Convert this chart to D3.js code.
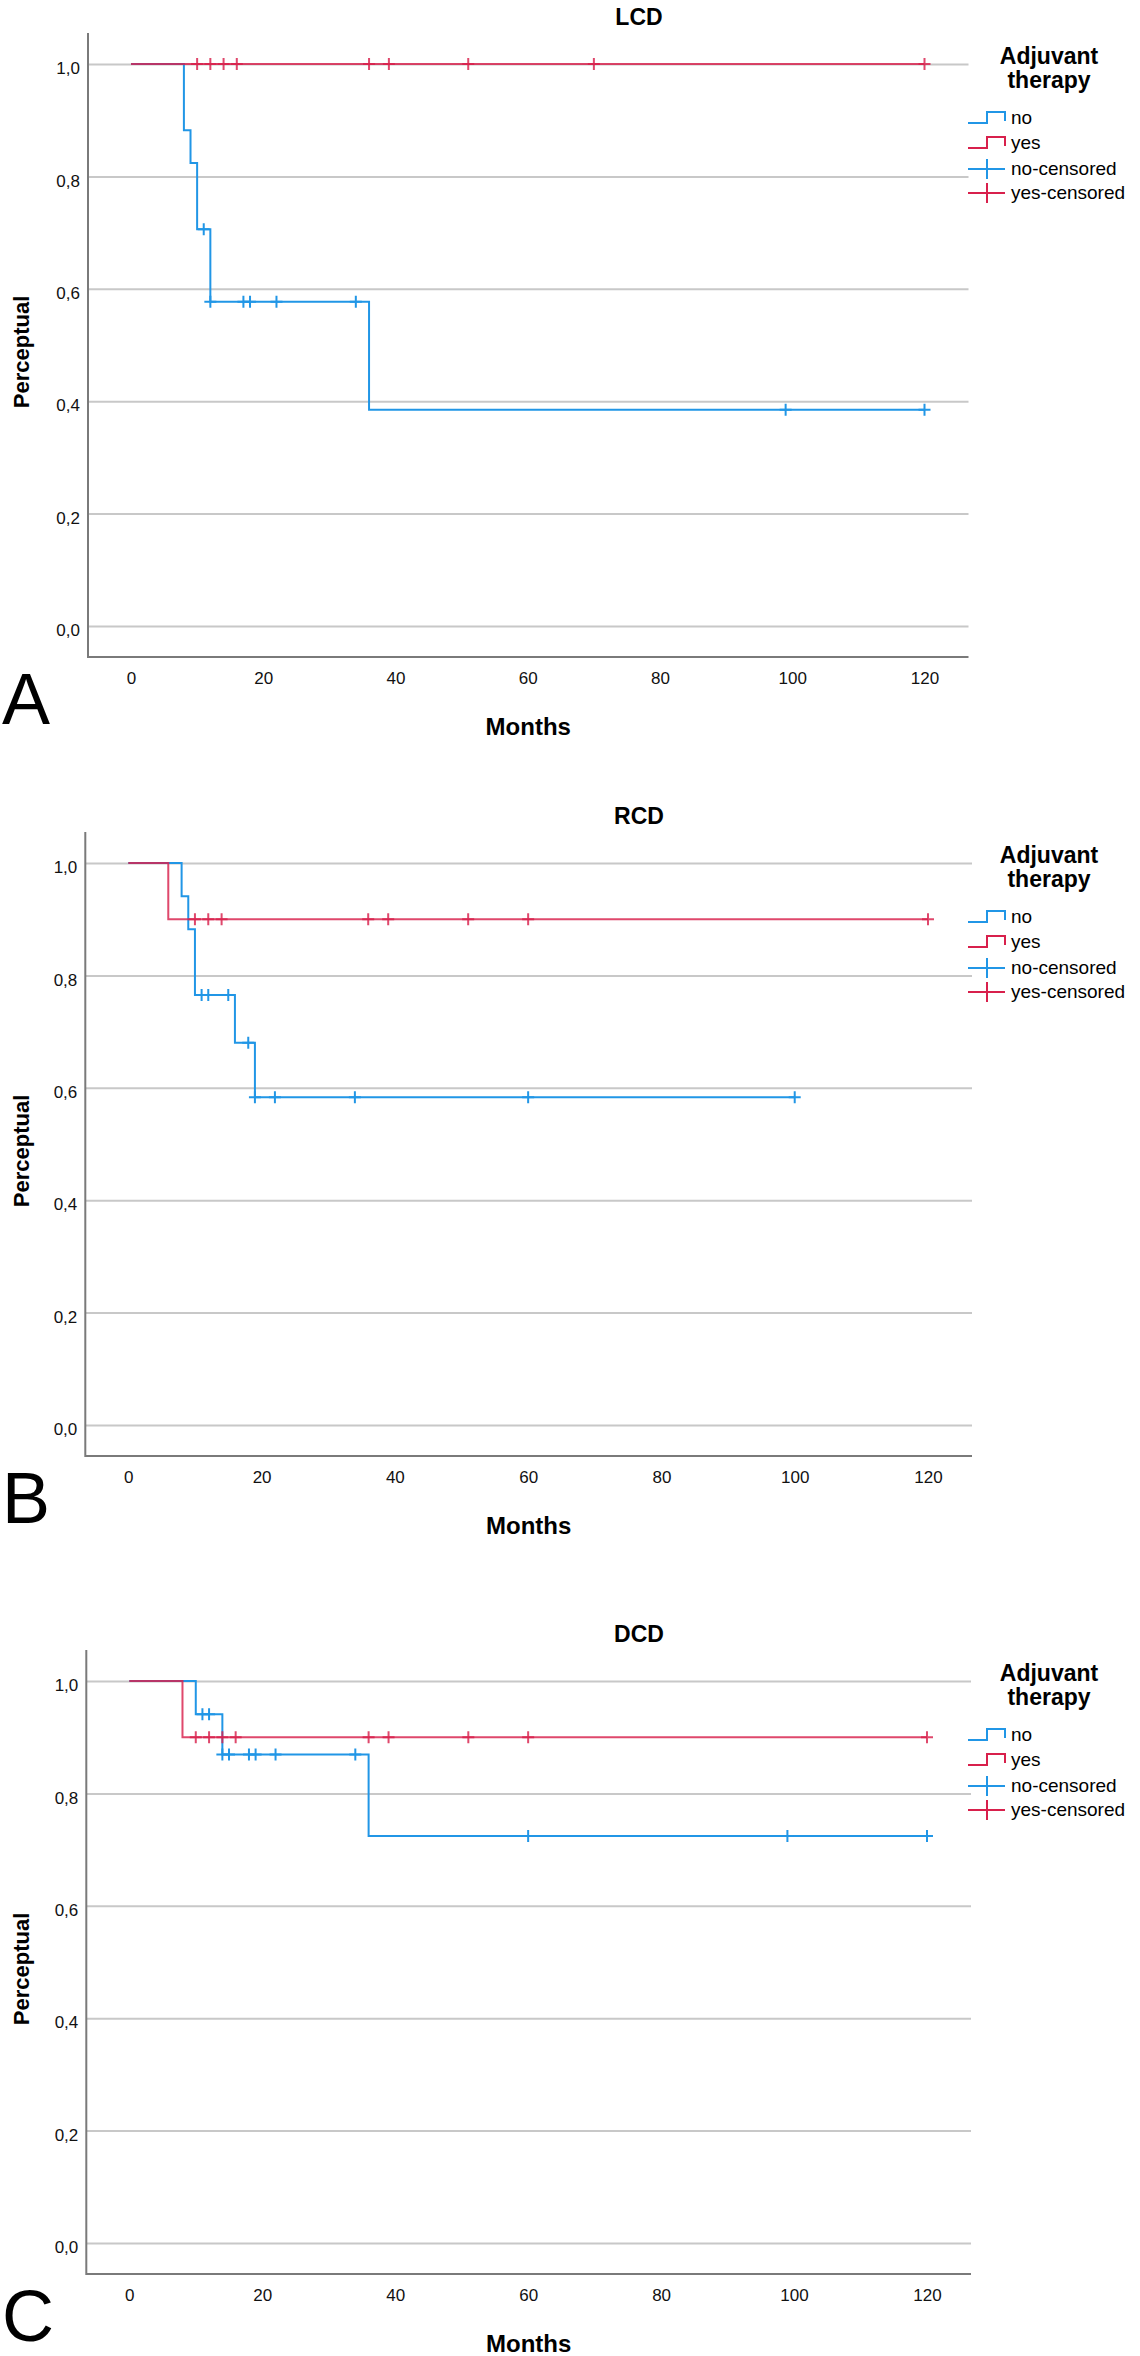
<!DOCTYPE html>
<html>
<head>
<meta charset="utf-8">
<script src="https://cdn.jsdelivr.net/npm/d3@7"></script>
<style>
  body { margin: 0; background: #fff; }
  text { font-family: "Liberation Sans", Arial, sans-serif; fill: #000; }
</style>
</head>
<body>
<script>
// ---- data ----
const panelTitles = ["LCD", "RCD", "DCD"];
const panelLetters = ["A", "B", "C"];
const xTicks = [0, 20, 40, 60, 80, 100, 120];
const yTicks = [0, 0.2, 0.4, 0.6, 0.8, 1.0];
const legendTitle = ["Adjuvant", "therapy"];
const legendLabels = ["no", "yes", "no-censored", "yes-censored"];

// step curves: time of each step (months) and survival after it
const lcdNoTimes = [0, 8, 9, 10, 12, 36, 120];
const lcdNoSurv = [1, 0.882, 0.824, 0.706, 0.577, 0.385, 0.385];
const lcdNoCens = [11, 12, 17, 18, 22, 34, 99, 120];
const lcdYesTimes = [0, 120];
const lcdYesSurv = [1, 1];
const lcdYesCens = [10, 12, 14, 16, 36, 39, 51, 70, 120];

const rcdNoTimes = [0, 8, 9, 10, 16, 19, 100];
const rcdNoSurv = [1, 0.941, 0.882, 0.765, 0.680, 0.583, 0.583];
const rcdNoCens = [11, 12, 15, 18, 19, 22, 34, 60, 100];
const rcdYesTimes = [0, 6, 120];
const rcdYesSurv = [1, 0.9, 0.9];
const rcdYesCens = [10, 12, 14, 36, 39, 51, 60, 120];

const dcdNoTimes = [0, 10, 14, 36, 120];
const dcdNoSurv = [1, 0.941, 0.869, 0.724, 0.724];
const dcdNoCens = [11, 12, 14, 15, 18, 19, 22, 34, 60, 99, 120];
const dcdYesTimes = [0, 8, 120];
const dcdYesSurv = [1, 0.9, 0.9];
const dcdYesCens = [10, 12, 14, 16, 36, 39, 51, 60, 120];

const blue = "#2196e6";
const red = "#d8204c";

const panels = [
  { no: [lcdNoTimes, lcdNoSurv, lcdNoCens], yes: [lcdYesTimes, lcdYesSurv, lcdYesCens] },
  { no: [rcdNoTimes, rcdNoSurv, rcdNoCens], yes: [rcdYesTimes, rcdYesSurv, rcdYesCens] },
  { no: [dcdNoTimes, dcdNoSurv, dcdNoCens], yes: [dcdYesTimes, dcdYesSurv, dcdYesCens] }
];

// layout of each panel: vertical offset and x range of months 0..120
const panelTop = [0, 799, 1617];
const panelX = [[131, 924.5], [128.3, 928], [129.3, 927]];

const svg = d3.select("body")
              .append("svg")
              .attr("width", 1140)
              .attr("height", 2356);

function survAt(times, surv, t) {
    let s = surv[0];
    for (let i = 0; i < times.length; i++) {
        if (times[i] <= t) s = surv[i];
    }
    return s;
}

panels.forEach((p, k) => {
    const g = svg.append("g").attr("transform", "translate(0," + panelTop[k] + ")");

    const x = d3.scaleLinear().domain([0, 120]).range(panelX[k]);
    const y = d3.scaleLinear().domain([0, 1]).range([626, 64]);
    const left = x(0) - 43;
    const right = x(120) + 44;

    // grid + y labels
    const yAxis = d3.axisLeft(y)
                    .tickValues(yTicks)
                    .tickSizeInner(-(right - left))
                    .tickSizeOuter(0)
                    .tickPadding(8)
                    .tickFormat(d => d.toFixed(1).replace(".", ","));
    const ya = g.append("g")
                .attr("transform", "translate(" + left + ",0)")
                .call(yAxis);
    ya.select(".domain").remove();
    ya.selectAll(".tick line").attr("stroke", "#c8c8c8").attr("stroke-width", 2);
    ya.selectAll(".tick text")
      .attr("dy", "0.57em")
      .style("font-size", "17px")
      .style("fill", "#111");

    // x labels
    const xAxis = d3.axisBottom(x)
                    .tickValues(xTicks)
                    .tickSize(0)
                    .tickPadding(15);
    const xa = g.append("g")
                .attr("transform", "translate(0,657)")
                .call(xAxis);
    xa.select(".domain").remove();
    xa.selectAll(".tick text")
      .style("font-size", "17px")
      .style("fill", "#111");

    // axis lines
    g.append("path")
     .attr("d", "M" + left + ",33V657H" + right)
     .attr("fill", "none")
     .attr("stroke", "#7a7a7a")
     .attr("stroke-width", 2);

    const line = d3.line()
                   .x(d => x(d[0]))
                   .y(d => y(d[1]))
                   .curve(d3.curveStepAfter);

    [["no", blue, 1], ["yes", red, 0.82]].forEach(([key, col, op]) => {
        const [times, surv, cens] = p[key];
        const pts = times.map((t, i) => [t, surv[i]]);
        g.append("path")
         .attr("d", line(pts))
         .attr("fill", "none")
         .attr("stroke", col)
         .attr("stroke-opacity", op)
         .attr("stroke-width", 2);

        g.selectAll(".cens-" + key)
         .data(cens)
         .enter()
         .append("path")
         .attr("class", "cens-" + key)
         .attr("d", t => {
             const cx = x(t), cy = y(survAt(times, surv, t));
             return "M" + (cx - 6) + "," + cy + "H" + (cx + 6) + "M" + cx + "," + (cy - 6) + "V" + (cy + 6);
         })
         .attr("fill", "none")
         .attr("stroke", col)
         .attr("stroke-opacity", op)
         .attr("stroke-width", 2);
    });

    // texts
    g.append("text")
     .attr("x", 639).attr("y", 25)
     .attr("text-anchor", "middle")
     .style("font-size", "23px").style("font-weight", "bold")
     .text(panelTitles[k]);

    g.append("text")
     .attr("transform", "translate(29,352) rotate(-90)")
     .attr("text-anchor", "middle")
     .style("font-size", "22px").style("font-weight", "bold")
     .text("Perceptual");

    g.append("text")
     .attr("x", (left + right) / 2).attr("y", 735)
     .attr("text-anchor", "middle")
     .style("font-size", "24px").style("font-weight", "bold")
     .text("Months");

    g.append("text")
     .attr("x", 2).attr("y", 724)
     .style("font-size", "72px")
     .text(panelLetters[k]);

    // legend
    legendTitle.forEach((t, i) => {
        g.append("text")
         .attr("x", 1049).attr("y", 64 + i * 23.5)
         .attr("text-anchor", "middle")
         .style("font-size", "23px").style("font-weight", "bold")
         .text(t);
    });

    const legY = [118, 143, 169, 193];
    const legCol = [blue, red, blue, red];
    legendLabels.forEach((lab, i) => {
        const cy = legY[i];
        const d = i < 2
            ? "M968," + (cy + 5) + "H987V" + (cy - 6) + "H1005V" + (cy + 3)
            : "M968," + cy + "H1005M987," + (cy - 10) + "V" + (cy + 10);
        g.append("path")
         .attr("d", d)
         .attr("fill", "none")
         .attr("stroke", legCol[i])
         .attr("stroke-width", 2);
        g.append("text")
         .attr("x", 1011).attr("y", cy + 6)
         .style("font-size", "19px")
         .text(lab);
    });
});
</script>
</body>
</html>
